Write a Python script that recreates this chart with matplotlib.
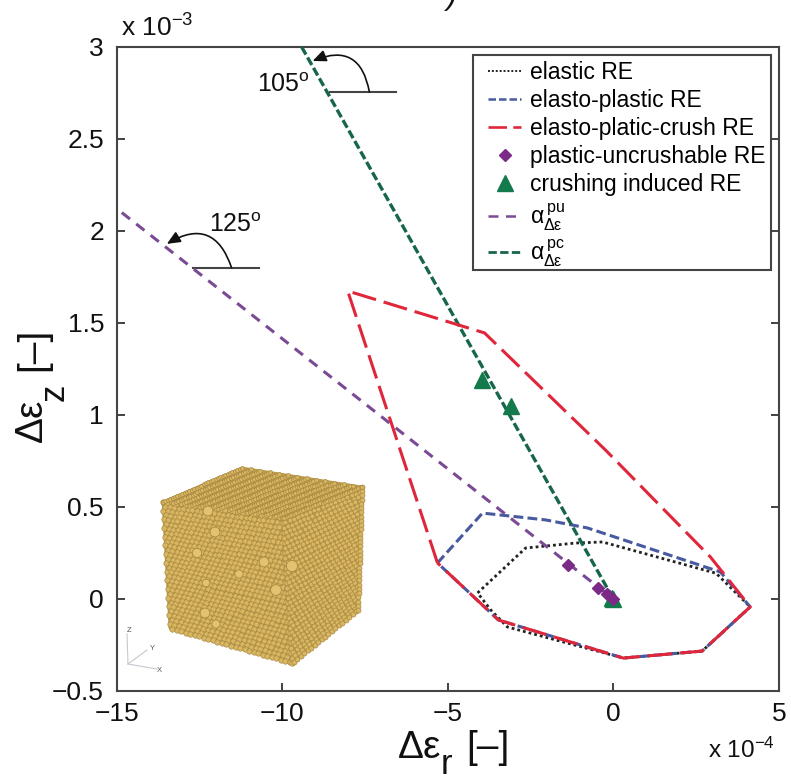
import numpy as np
import matplotlib
matplotlib.use('Agg')
import matplotlib.pyplot as plt
from matplotlib.lines import Line2D
from matplotlib.patches import Polygon, Rectangle, FancyArrowPatch

plt.rcParams['font.family'] = ['Liberation Sans', 'DejaVu Sans']
plt.rcParams['mathtext.fontset'] = 'custom'
plt.rcParams['mathtext.rm'] = 'Liberation Sans'
plt.rcParams['mathtext.it'] = 'Liberation Sans'
plt.rcParams['mathtext.bf'] = 'Liberation Sans:bold'
plt.rcParams['mathtext.fallback'] = 'stix'
plt.rcParams['axes.unicode_minus'] = True

# data, x in 1e-4, y in 1e-3
crush_x = [-5.31, -8.02, -3.89, -0.24, 2.93, 3.29, 4.13, 2.68, 0.30, -3.47, -5.31]
crush_y = [0.196, 1.674, 1.446, 0.81, 0.228, 0.147, -0.043, -0.283, -0.321, -0.114, 0.196]
plastic_x = [-5.31, -3.95, -2.05, -0.78, 3.23, 4.13, 2.68, 0.30, -3.47, -5.31]
plastic_y = [0.196, 0.467, 0.43, 0.386, 0.147, -0.043, -0.283, -0.321, -0.114, 0.196]
elastic_x = [-4.10, -2.65, -1.15, -0.33, 3.10, 4.13, 2.68, 0.30, -3.20, -3.70, -4.10]
elastic_y = [0.033, 0.277, 0.304, 0.31, 0.14, -0.043, -0.283, -0.321, -0.152, -0.06, 0.033]
unc_x = [-1.36, -0.45, -0.20, 0.0]
unc_y = [0.185, 0.06, 0.025, 0.0]
cru_x = [-3.98, -3.08, -0.05, 0.0]
cru_y = [1.19, 1.05, 0.005, 0.0]
pu_x = [-14.84, 0.0]
pu_y = [2.10, 0.0]
pc_x = [-9.41, 0.0]
pc_y = [3.0, 0.0]
xticks = [-15, -10, -5, 0, 5]
yticks = [-0.5, 0, 0.5, 1, 1.5, 2, 2.5, 3]
yticklabels = ['\u22120.5', '0', '0.5', '1', '1.5', '2', '2.5', '3']
legend_labels = ['elastic RE', 'elasto-plastic RE', 'elasto-platic-crush RE',
                 'plastic-uncrushable RE', 'crushing induced RE',
                 r'$\alpha^{\,\mathrm{pu}}_{\Delta\varepsilon}$',
                 r'$\alpha^{\,\mathrm{pc}}_{\Delta\varepsilon}$']

RED, BLUE, BLACK = '#e0263a', '#47599f', '#222222'
GREEN, PURPLE = '#17664a', '#7a4a94'
MPURPLE, MGREEN = '#7b2a85', '#137a4c'
EDGE = '#444444'
TXT = '#111111'

W, H = 791, 783
fig = plt.figure(figsize=(W / 100, H / 100), dpi=100)
L, R, T, B = 116.5, 779, 47, 691
ax = fig.add_axes([L / W, 1 - B / H, (R - L) / W, (B - T) / H])
ax.set_xlim(-15, 5)
ax.set_ylim(-0.5, 3)

ax.plot(elastic_x, elastic_y, color=BLACK, lw=2.0, ls=(0, (1, 1.1)), zorder=2)
ax.plot(plastic_x, plastic_y, color=BLUE, lw=2.2, ls=(0, (3.2, 1.4)), zorder=3)
ax.plot(crush_x, crush_y, color=RED, lw=2.2, ls=(0, (8, 2.6)), zorder=4)
ax.plot(pu_x, pu_y, color=PURPLE, lw=2.2, ls=(0, (3.4, 2.6)), zorder=3)
ax.plot(pc_x, pc_y, color=GREEN, lw=2.4, ls=(0, (2.6, 1.0)), zorder=3)
ax.plot(cru_x, cru_y, ls='none', marker='^', ms=12, color=MGREEN, mec=MGREEN, zorder=5)
ax.plot(unc_x, unc_y, ls='none', marker='D', ms=6, color=MPURPLE, mec=MPURPLE, zorder=6)

for s in ax.spines.values():
    s.set_color(EDGE)
    s.set_linewidth(1.5)
ax.set_xticks(xticks)
ax.set_yticks(yticks)
ax.set_yticklabels(yticklabels)
ax.tick_params(direction='in', length=6, width=1.2, color='#222222', right=True, top=False,
               labelsize=19, labelcolor=TXT)
ax.tick_params(axis='x', pad=8)
ax.tick_params(axis='y', pad=9)

fig.text(121 / W, 1 - 37 / H, 'x 10$^{-3}$', fontsize=19, color=TXT, ha='left', va='baseline')
fig.text(708 / W, 1 - 758 / H, 'x 10$^{-4}$', fontsize=17.5, color=TXT, ha='left', va='baseline')

# axis labels, built from pieces as the subscript is nearly full size and lowered
fig.text(397 / W, 1 - 758 / H, r'$\Delta\varepsilon$', fontsize=28, color=TXT, ha='left', va='baseline')
fig.text(441 / W, 1 - 774 / H, 'r', fontsize=25, color=TXT, ha='left', va='baseline')
fig.text(466 / W, 1 - 758 / H, '[\u2013]', fontsize=28, color=TXT, ha='left', va='baseline')
rot = dict(rotation=90, rotation_mode='anchor', ha='left', va='baseline', color=TXT)
fig.text(43 / W, 1 - 444 / H, r'$\Delta\varepsilon$', fontsize=28, **rot)
fig.text(64 / W, 1 - 401 / H, 'z', fontsize=25, **rot)
fig.text(43 / W, 1 - 371 / H, '[\u2013]', fontsize=28, **rot)
fig.text(452 / W, 1 - 4 / H, ')', fontsize=22, style='italic', color=TXT, ha='center', va='baseline')

# legend
fx0, fx1, fy0, fy1 = 473, 771, 55, 270
ax.add_patch(Rectangle(((fx0 - L) / (R - L), 1 - (fy1 - T) / (B - T)), (fx1 - fx0) / (R - L),
                       (fy1 - fy0) / (B - T), transform=ax.transAxes, fc='white', ec=EDGE,
                       lw=1.5, zorder=7))
handles = [
    Line2D([], [], color=BLACK, lw=1.4, ls=(0, (1, 1))),
    Line2D([], [], color=BLUE, lw=1.8, ls=(0, (3, 1.2))),
    Line2D([], [], color=RED, lw=1.9, ls=(0, (7, 2.4))),
    Line2D([], [], ls='none', marker='D', ms=6, color=MPURPLE),
    Line2D([], [], ls='none', marker='^', ms=12, color=MGREEN),
    Line2D([], [], color=PURPLE, lw=1.8, ls=(0, (4, 3))),
    Line2D([], [], color=GREEN, lw=2, ls=(0, (3, 1.2))),
]
leg = ax.legend(handles, legend_labels, loc='upper left',
                bbox_to_anchor=((488 - L) / (R - L), 1 - (61 - T) / (B - T)),
                borderaxespad=0, fontsize=16.5, labelspacing=0.22, handlelength=1.45,
                handletextpad=0.4, borderpad=0, frameon=False)
leg.set_zorder(8)

# angle sketches, in data units
def angle_mark(cy, x0, x1, tipx, tipy):
    ax.plot([x0, x1], [cy, cy], color='#444444', lw=1.5, zorder=2)
    ax.add_patch(FancyArrowPatch((x1 - (x1 - x0) * 0.41, cy), (tipx, tipy),
                 connectionstyle='arc3,rad=0.62', arrowstyle='-|>,head_length=8,head_width=3.5',
                 color='#111111', lw=1.2, shrinkA=0, shrinkB=0, zorder=4))

angle_mark(2.755, -8.54, -6.55, -9.08, 2.924)
angle_mark(1.80, -12.7, -10.71, -13.48, 1.93)
ax.text(-10.75, 2.755, '105$^{\\mathrm{o}}$', fontsize=18, color=TXT, ha='left', va='baseline')
ax.text(-12.2, 1.995, '125$^{\\mathrm{o}}$', fontsize=18, color=TXT, ha='left', va='baseline')

# particle cube illustration
ix0, ix1, iy0, iy1 = 120, 372, 462, 675
cax = fig.add_axes([ix0 / W, 1 - iy1 / H, (ix1 - ix0) / W, (iy1 - iy0) / H])
cax.set_xlim(ix0, ix1)
cax.set_ylim(iy1, iy0)
cax.axis('off')

left_face = np.array([[163, 502], [283, 518], [292, 663], [170, 628]], float)
right_face = np.array([[283, 518], [362, 487], [358, 610], [292, 663]], float)
top_face = np.array([[163, 502], [242, 468], [362, 487], [283, 518]], float)

def lattice(face, nu, nv):
    u, v = np.meshgrid(np.arange(nu) / (nu - 1), np.arange(nv) / (nv - 1))
    u = u + (np.arange(nv)[:, None] % 2) * 0.5 / (nu - 1)
    u = np.clip(u, 0, 1).ravel()
    v = v.ravel()
    a, b, c, d = face
    return (((1 - u) * (1 - v))[:, None] * a + (u * (1 - v))[:, None] * b
            + (u * v)[:, None] * c + ((1 - u) * v)[:, None] * d)

for face, nu, nv, s in [
    (left_face, 28, 30, 15),
    (right_face, 20, 30, 13),
    (top_face, 34, 14, 8),
]:
    cax.add_patch(Polygon(face, closed=True, fc='#b99a4e', ec='#b99a4e', lw=2, zorder=1))
    p = lattice(face, nu, nv)
    cax.scatter(p[:, 0], p[:, 1], s=s, c='#d9b762', linewidths=0.5, edgecolors='#a98a42', zorder=2)

big_x = [208, 215, 197, 264, 292, 239, 276, 205, 216, 206]
big_y = [511, 532, 553, 562, 566, 574, 590, 613, 624, 583]
big_s = [50, 50, 45, 50, 65, 35, 60, 50, 35, 30]
cax.scatter(big_x, big_y, s=big_s, c='#e3c270', linewidths=0.6, edgecolors='#a98a42', zorder=3)

for ex, ey in [(127, 634), (147, 650), (157, 669)]:
    cax.plot([128, ex], [664, ey], color='#c8c8d0', lw=0.8, zorder=2)
for t, tx, ty in [('Z', 129, 631), ('Y', 152, 649), ('X', 159, 670)]:
    cax.text(tx, ty, t, fontsize=5.5, color='#555555', ha='center', va='center')

fig.savefig('out.png', dpi=100)
